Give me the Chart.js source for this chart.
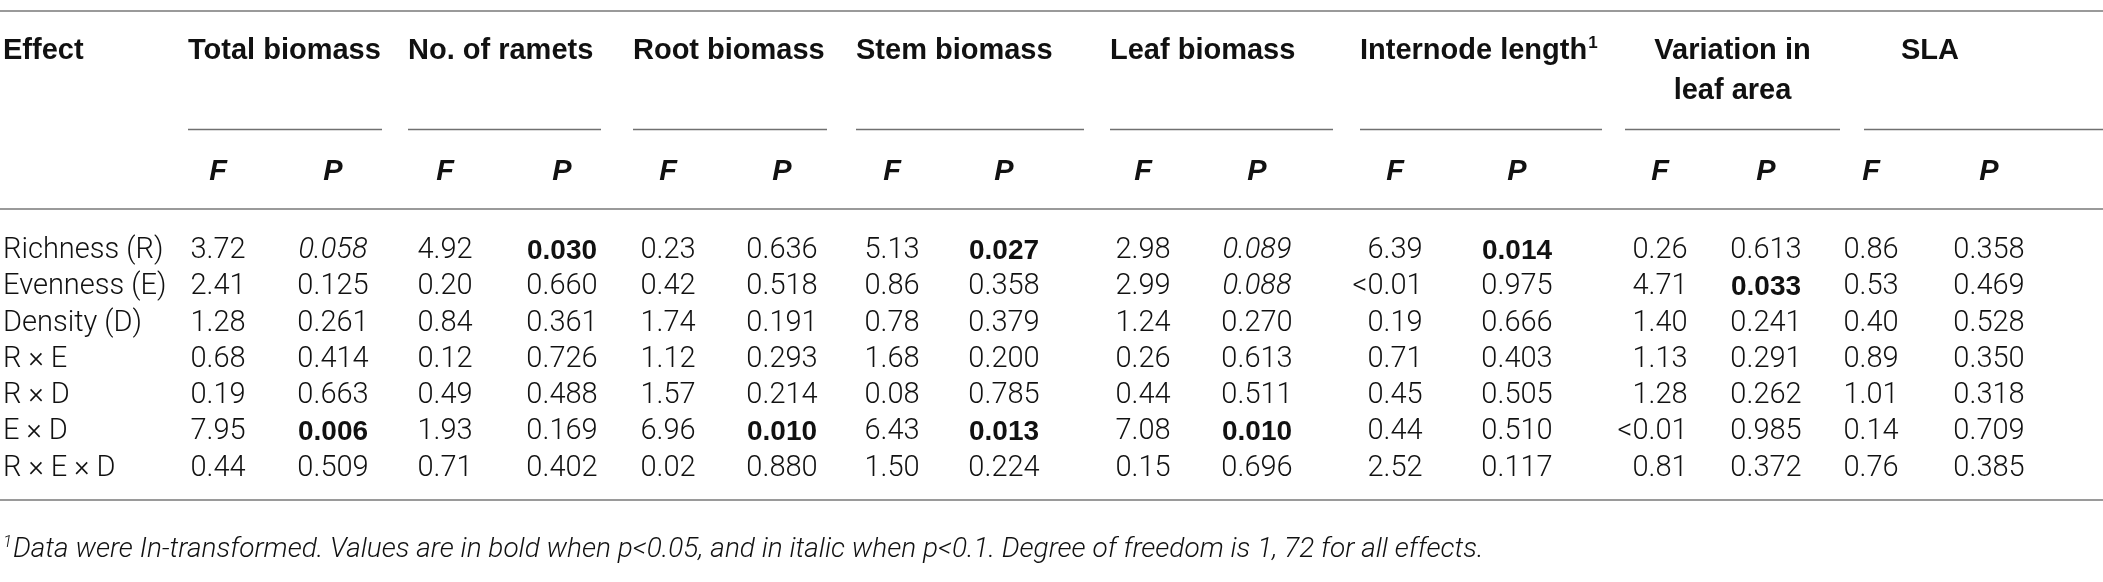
<!DOCTYPE html>
<html>
<head>
<meta charset="utf-8">
<script src="https://cdn.jsdelivr.net/npm/chart.js@4.4.1/dist/chart.umd.min.js"></script>
<style>
  html, body { margin: 0; padding: 0; background: #fff; }
  canvas { display: block; }
</style>
</head>
<body>
<canvas id="tabela" width="2103" height="582"></canvas>
<script>
// rows of the table
const effects = ['Richness (R)', 'Evenness (E)', 'Density (D)', 'R \u00d7 E', 'R \u00d7 D', 'E \u00d7 D', 'R \u00d7 E \u00d7 D']
const traits = ['Total biomass', 'No. of ramets', 'Root biomass', 'Stem biomass', 'Leaf biomass', 'Internode length', 'Variation in leaf area', 'SLA']

// F and P values, one pair per trait
const f_total = ['3.72', '2.41', '1.28', '0.68', '0.19', '7.95', '0.44']
const p_total = ['0.058', '0.125', '0.261', '0.414', '0.663', '0.006', '0.509']
const f_ramets = ['4.92', '0.20', '0.84', '0.12', '0.49', '1.93', '0.71']
const p_ramets = ['0.030', '0.660', '0.361', '0.726', '0.488', '0.169', '0.402']
const f_root = ['0.23', '0.42', '1.74', '1.12', '1.57', '6.96', '0.02']
const p_root = ['0.636', '0.518', '0.191', '0.293', '0.214', '0.010', '0.880']
const f_stem = ['5.13', '0.86', '0.78', '1.68', '0.08', '6.43', '1.50']
const p_stem = ['0.027', '0.358', '0.379', '0.200', '0.785', '0.013', '0.224']
const f_leaf = ['2.98', '2.99', '1.24', '0.26', '0.44', '7.08', '0.15']
const p_leaf = ['0.089', '0.088', '0.270', '0.613', '0.511', '0.010', '0.696']
const f_internode = ['6.39', '<0.01', '0.19', '0.71', '0.45', '0.44', '2.52']
const p_internode = ['0.014', '0.975', '0.666', '0.403', '0.505', '0.510', '0.117']
const f_variation = ['0.26', '4.71', '1.40', '1.13', '1.28', '<0.01', '0.81']
const p_variation = ['0.613', '0.033', '0.241', '0.291', '0.262', '0.985', '0.372']
const f_sla = ['0.86', '0.53', '0.40', '0.89', '1.01', '0.14', '0.76']
const p_sla = ['0.358', '0.469', '0.528', '0.350', '0.318', '0.709', '0.385']

const f_values = [f_total, f_ramets, f_root, f_stem, f_leaf, f_internode, f_variation, f_sla]
const p_values = [p_total, p_ramets, p_root, p_stem, p_leaf, p_internode, p_variation, p_sla]

const footnote = 'Data were In-transformed. Values are in bold when p<0.05, and in italic when p<0.1. Degree of freedom is 1, 72 for all effects.'

// layout (x in canvas px, y in row units)
const col_f = [218, 445, 668, 892, 1143, 1395, 1660, 1871]
const col_p = [333, 562, 782, 1004, 1257, 1517, 1766, 1989]
const group_span = [[188, 382], [408, 601], [633, 827], [856, 1084], [1110, 1333], [1360, 1602], [1625, 1840], [1864, 2103]]
const y_top_line = -6.63, y_head1 = -5.52, y_head2 = -4.42, y_underline = -3.37, y_fp = -2.18, y_rule = -1.16
const y_bottom_line = 6.88, y_footnote = 8.26

const FONT = 'Roboto'
const BOLD = '"Liberation Sans"'
const SIZE = 29

const datasets = []
datasets.push({ kind: 'label', data: effects.map((e, i) => ({ x: 3, y: i, txt: e })) })
traits.forEach((t, k) => {
    datasets.push({ kind: 'F', data: f_values[k].map((v, i) => ({ x: col_f[k], y: i, txt: v })) })
    datasets.push({ kind: 'P', data: p_values[k].map((v, i) => ({ x: col_p[k], y: i, txt: v })) })
})
datasets.forEach(ds => { ds.pointRadius = 0; ds.pointHoverRadius = 0; ds.showLine = false })

function cellFont(kind, txt) {
    if (kind === 'P') {
        const p = parseFloat(txt)
        if (p < 0.05) return 'bold ' + (SIZE - 1) + 'px ' + BOLD
        if (p < 0.1) return 'italic 300 ' + SIZE + 'px ' + FONT
    }
    return '300 ' + SIZE + 'px ' + FONT
}

const desenhaTabela = {
    id: 'desenhaTabela',
    afterDatasetsDraw(chart) {
        const ctx = chart.ctx
        const sx = chart.scales.x, sy = chart.scales.y
        ctx.save()

        // horizontal rules
        ctx.strokeStyle = '#9a9a9a'
        ctx.lineWidth = 2
        ;[y_top_line, y_rule, y_bottom_line].forEach(v => {
            const py = Math.round(sy.getPixelForValue(v))
            ctx.beginPath(); ctx.moveTo(0, py); ctx.lineTo(chart.width, py); ctx.stroke()
        })
        ctx.strokeStyle = '#707070'
        ctx.lineWidth = 1.5
        group_span.forEach(s => {
            const py = Math.round(sy.getPixelForValue(y_underline)) + 0.5
            ctx.beginPath(); ctx.moveTo(sx.getPixelForValue(s[0]), py); ctx.lineTo(sx.getPixelForValue(s[1]), py); ctx.stroke()
        })

        // headers
        const headFont = 'bold ' + SIZE + 'px ' + BOLD
        ctx.fillStyle = '#111'
        ctx.textBaseline = 'middle'
        ctx.font = headFont
        ctx.textAlign = 'left'
        ctx.fillText('Effect', sx.getPixelForValue(3), sy.getPixelForValue(y_head1))
        traits.forEach((t, k) => {
            const x0 = sx.getPixelForValue(group_span[k][0])
            const x1 = sx.getPixelForValue(group_span[k][1])
            ctx.font = headFont
            if (t === 'Variation in leaf area') {
                ctx.textAlign = 'center'
                ctx.fillText('Variation in', (x0 + x1) / 2, sy.getPixelForValue(y_head1))
                ctx.fillText('leaf area', (x0 + x1) / 2, sy.getPixelForValue(y_head2))
            } else if (t === 'SLA') {
                ctx.textAlign = 'center'
                ctx.fillText(t, (sx.getPixelForValue(col_f[k]) + sx.getPixelForValue(col_p[k])) / 2, sy.getPixelForValue(y_head1))
            } else {
                ctx.textAlign = 'left'
                ctx.fillText(t, x0, sy.getPixelForValue(y_head1))
                if (t === 'Internode length') {
                    const w = ctx.measureText(t).width
                    ctx.font = 'bold 17px ' + BOLD
                    ctx.fillText('1', x0 + w + 1, sy.getPixelForValue(y_head1) - 8)
                }
            }
            ctx.font = 'italic bold ' + SIZE + 'px ' + BOLD
            ctx.textAlign = 'center'
            ctx.fillText('F', sx.getPixelForValue(col_f[k]), sy.getPixelForValue(y_fp))
            ctx.fillText('P', sx.getPixelForValue(col_p[k]), sy.getPixelForValue(y_fp))
        })

        // cells, placed at the points the scales computed
        chart.data.datasets.forEach((ds, d) => {
            const meta = chart.getDatasetMeta(d)
            ctx.font = '300 ' + SIZE + 'px ' + FONT
            const typical = ctx.measureText(ds.kind === 'P' ? '0.000' : '0.00').width
            meta.data.forEach((pt, i) => {
                const txt = ds.data[i].txt
                ctx.font = cellFont(ds.kind, txt)
                if (ds.kind === 'label') {
                    ctx.textAlign = 'left'
                    ctx.fillText(txt, pt.x, pt.y)
                } else if (txt.startsWith('<')) {
                    ctx.textAlign = 'right'
                    ctx.fillText(txt, pt.x + typical / 2, pt.y)
                } else {
                    ctx.textAlign = 'center'
                    ctx.fillText(txt, pt.x, pt.y)
                }
            })
        })

        // footnote
        ctx.textAlign = 'left'
        ctx.font = 'italic 300 17px ' + FONT
        ctx.fillText('1', sx.getPixelForValue(3), sy.getPixelForValue(y_footnote) - 7)
        ctx.font = 'italic 300 28px ' + FONT
        ctx.fillText(footnote, sx.getPixelForValue(13), sy.getPixelForValue(y_footnote))
        ctx.restore()
    }
}

const ctx_tabela = document.getElementById('tabela').getContext('2d')
let tabela = new Chart(ctx_tabela, {
    type: 'scatter',
    data: { datasets: datasets },
    options: {
        responsive: false,
        animation: false,
        devicePixelRatio: 1,
        layout: { padding: 0 },
        plugins: {
            legend: { display: false },
            tooltip: { enabled: false }
        },
        scales: {
            x: { type: 'linear', min: 0, max: 2103, display: false },
            y: { type: 'linear', min: -6.93, max: 9.14, reverse: true, display: false }
        }
    },
    plugins: [desenhaTabela]
});
</script>
</body>
</html>
